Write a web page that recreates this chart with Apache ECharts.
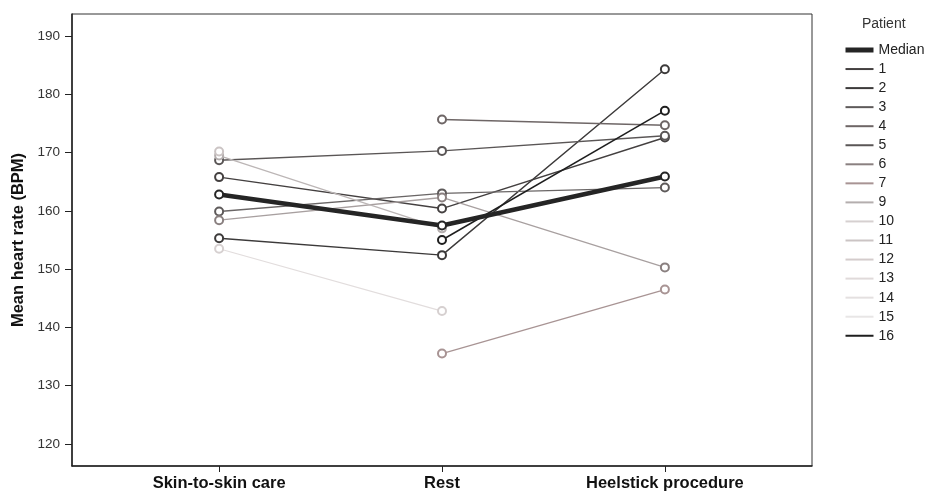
<!DOCTYPE html>
<html>
<head>
<meta charset="utf-8">
<script src="https://cdn.jsdelivr.net/npm/echarts@6/dist/echarts.min.js"></script>
<style>
html,body{margin:0;padding:0;background:#fff;}
#chart{width:927px;height:495px;}
</style>
</head>
<body>
<div id="chart"></div>
<script>
// ---- data ----
var categories = ['Skin-to-skin care', 'Rest', 'Heelstick procedure'];
var yTicks = [120, 130, 140, 150, 160, 170, 180, 190];
var seriesNames = ['Median', '1', '2', '3', '4', '5', '6', '7', '9', '10', '11', '12', '13', '14', '15', '16'];
var median = [162.8, 157.5, 165.9];
var p1 = [165.8, 160.4, 172.6];
var p2 = [155.3, 152.4, 184.3];
var p3 = [159.9, 163.0, 164.0];
var p4 = [null, 175.7, 174.7];
var p5 = [168.7, 170.3, 172.9];
var p6 = [158.4, 162.3, 150.3];
var p7 = [null, 135.5, 146.5];
var p9 = [169.5, 157.0, null];
var p10 = [153.5, 142.8, null];
var p11 = [170.2, null, null];
var p12 = [null, null, null];
var p13 = [null, null, null];
var p14 = [null, null, null];
var p15 = [null, null, null];
var p16 = [null, 155.0, 177.2];
var seriesValues = [median, p1, p2, p3, p4, p5, p6, p7, p9, p10, p11, p12, p13, p14, p15, p16];

// ---- styles ----
var colors = ['#252525', '#444040', '#3c3a3a', '#5e5a5a', '#6e6666', '#5a5656', '#8a8080', '#a89494',
              '#b4aeae', '#d6d0d0', '#cbc4c4', '#d4cccc', '#e0dada', '#e4e0e0', '#e8e6e6', '#1e1e1e'];
var lineColors = ['#252525', '#444040', '#3c3a3a', '#6a6666', '#6e6666', '#5a5656', '#a8a0a0', '#a89494',
              '#bcb6b6', '#e2dddd', '#cbc4c4', '#d4cccc', '#e0dada', '#e4e0e0', '#e8e6e6', '#1e1e1e'];
var widths = [4.5, 1.4, 1.4, 1.4, 1.4, 1.4, 1.3, 1.3, 1.3, 1.2, 1.2, 1.2, 1.2, 1.2, 1.2, 1.5];

var series = seriesNames.map(function (name, i) {
  return {
    name: name,
    type: 'line',
    data: seriesValues[i].map(function (v, j) { return [j, v]; }),
    symbol: 'emptyCircle',
    symbolSize: 8,
    z: i === 0 ? 3 : 2,
    lineStyle: { color: lineColors[i], width: widths[i] },
    itemStyle: { color: colors[i], borderColor: colors[i], borderWidth: 1.5 },
    emphasis: { disabled: true },
    animation: false
  };
});

var legendData = seriesNames.map(function (name, i) {
  return { name: name, lineStyle: { color: colors[i], width: i === 0 ? 5 : 2 } };
});

var chart = echarts.init(document.getElementById('chart'));
chart.setOption({
  backgroundColor: '#fff',
  animation: false,
  title: {
    text: 'Patient', left: 862, top: 17, padding: 0,
    textStyle: { fontFamily: 'Liberation Sans, Arial', fontSize: 14, fontWeight: 'normal', color: '#333' }
  },
  grid: {
    left: 72, right: 115, top: 14, bottom: 29,
    show: true, borderColor: '#333', borderWidth: 1, backgroundColor: '#fff'
  },
  legend: {
    orient: 'vertical',
    left: 843, top: 43, padding: 0,
    itemWidth: 28, itemHeight: 14, itemGap: 5.05,
    data: legendData,
    itemStyle: { opacity: 0 },
    textStyle: { fontFamily: 'Liberation Sans, Arial', fontSize: 14, color: '#222' },
    selectedMode: false
  },
  xAxis: {
    type: 'value',
    min: -0.66, max: 2.66,
    splitLine: { show: false },
    axisLine: { show: true, onZero: false, lineStyle: { color: '#222', width: 1.5 } },
    axisTick: { show: true, length: 6, customValues: [0, 1, 2], lineStyle: { color: '#222' } },
    axisLabel: {
      customValues: [0, 1, 2],
      margin: 9,
      formatter: function (v) { return categories[Math.round(v)]; },
      fontFamily: 'Liberation Sans, Arial', fontSize: 16.5, fontWeight: 'bold', color: '#111'
    }
  },
  yAxis: {
    type: 'value',
    min: 116.2, max: 193.8,
    name: 'Mean heart rate (BPM)',
    nameLocation: 'middle',
    nameGap: 45,
    nameTextStyle: { fontFamily: 'Liberation Sans, Arial', fontSize: 16.5, fontWeight: 'bold', color: '#111' },
    splitLine: { show: false },
    axisLine: { show: true, onZero: false, lineStyle: { color: '#222', width: 1.5 } },
    axisTick: { show: true, length: 7, customValues: yTicks, lineStyle: { color: '#222' } },
    axisLabel: {
      customValues: yTicks,
      margin: 12,
      fontFamily: 'Liberation Sans, Arial', fontSize: 13.5, color: '#333'
    }
  },
  series: series
});
</script>
</body>
</html>
